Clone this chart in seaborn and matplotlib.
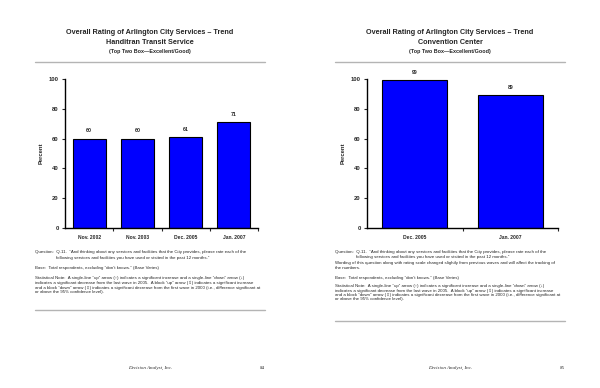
import matplotlib
matplotlib.use("Agg")
import matplotlib.pyplot as plt
import seaborn as sns
import pandas as pd
from matplotlib.lines import Line2D

# Chart data
transit_periods = ["Nov. 2002", "Nov. 2003", "Dec. 2005", "Jan. 2007"]
transit_values = [60, 60, 61, 71]

convention_periods = ["Dec. 2005", "Jan. 2007"]
convention_values = [99, 89]

yticks = [0, 20, 40, 60, 80, 100]

title_main = "Overall Rating of Arlington City Services \u2013 Trend"
sub_left = "Handitran Transit Service"
sub_right = "Convention Center"
sub_note = "(Top Two Box\u2014Excellent/Good)"

question_1 = "Question:  Q.11.  \u201cAnd thinking about any services and facilities that the City provides, please rate each of the"
question_2 = "following services and facilities you have used or visited in the past 12 months.\u201d"
wording_1 = "Wording of this question along with rating scale changed slightly from previous waves and will affect the tracking of"
wording_2 = "the numbers."
base_txt = "Base:  Total respondents, excluding \u201cdon\u2019t knows.\u201d (Base Varies)"
stat_lines = [
    "Statistical Note:  A single-line \u201cup\u201d arrow (\u2191) indicates a significant increase and a single-line \u201cdown\u201d arrow (\u2193)",
    "indicates a significant decrease from the last wave in 2005.  A block \u201cup\u201d arrow (\u21e7) indicates a significant increase",
    "and a block \u201cdown\u201d arrow (\u21e9) indicates a significant decrease from the first wave in 2000 (i.e., difference significant at",
    "or above the 95% confidence level).",
]

sns.set_style("white")
plt.rcParams["font.family"] = ["Liberation Sans", "DejaVu Sans"]

W, H = 600, 388
fig = plt.figure(figsize=(6, 3.88), dpi=100)


def fx(px):
    return px / W


def fy(py):
    return 1 - py / H


def draw_chart(rect, periods, values):
    ax = fig.add_axes(rect)
    df = pd.DataFrame({"period": periods, "value": values})
    sns.barplot(data=df, x="period", y="value", color="#0000ff", saturation=1,
                edgecolor="black", linewidth=0.8, width=0.68, ax=ax)
    ax.set_xlim(-0.5, len(periods) - 0.5)
    ax.set_ylim(0, 100)
    ax.set_yticks(yticks)
    ax.set_xlabel("")
    ax.set_ylabel("Percent", fontsize=4.2, fontweight="bold", labelpad=4)
    for s in ["top", "right"]:
        ax.spines[s].set_visible(False)
    for s in ["left", "bottom"]:
        ax.spines[s].set_color("black")
        ax.spines[s].set_linewidth(1.0)
    ax.tick_params(axis="y", length=2.5, width=0.8, direction="out", labelsize=4.2, pad=2, left=True)
    ax.tick_params(axis="x", which="major", length=0, labelsize=3.6, pad=5)
    ax.set_xticks([i + 0.5 for i in range(len(periods))], minor=True)
    ax.tick_params(axis="x", which="minor", length=2.5, width=0.8, direction="out", bottom=True)
    for lab in ax.get_xticklabels() + ax.get_yticklabels():
        lab.set_fontweight("bold")
    ax.bar_label(ax.containers[0], fmt="%d", padding=4, fontsize=3.8, fontweight="bold")
    return ax


draw_chart([fx(65), fy(228), fx(193), 149 / H], transit_periods, transit_values)
draw_chart([fx(367), fy(228), fx(191), 149 / H], convention_periods, convention_values)


def header(cx, sub):
    fig.text(fx(cx), fy(33), title_main, ha="center", va="center", fontsize=5.2, fontweight="bold")
    fig.text(fx(cx), fy(42), sub, ha="center", va="center", fontsize=5.2, fontweight="bold")
    fig.text(fx(cx), fy(52), sub_note, ha="center", va="center", fontsize=3.9, fontweight="bold")


def rule(x0, x1, py):
    fig.add_artist(Line2D([fx(x0), fx(x1)], [fy(py), fy(py)], color="#b4b4b4", linewidth=1.0))


header(150, sub_left)
header(450, sub_right)
rule(35, 265, 62)
rule(335, 565, 62)

fs = 3.2
# left notes
lx = 35
fig.text(fx(lx), fy(252), question_1, fontsize=fs, va="center")
fig.text(fx(lx + 21), fy(258), question_2, fontsize=fs, va="center")
fig.text(fx(lx), fy(268), base_txt, fontsize=fs, va="center")
for i, line in enumerate(stat_lines):
    fig.text(fx(lx), fy(278 + 4.8 * i), line, fontsize=fs, va="center",
             family=["Liberation Sans", "DejaVu Sans"])
rule(35, 265, 310)

# right notes
rx = 335
fig.text(fx(rx), fy(252), question_1, fontsize=fs, va="center")
fig.text(fx(rx + 21), fy(257), question_2, fontsize=fs, va="center")
fig.text(fx(rx), fy(263), wording_1, fontsize=fs, va="center")
fig.text(fx(rx), fy(268), wording_2, fontsize=fs, va="center")
fig.text(fx(rx), fy(278), base_txt, fontsize=fs, va="center")
for i, line in enumerate(stat_lines):
    fig.text(fx(rx), fy(286 + 4.4 * i), line, fontsize=fs, va="center",
             family=["Liberation Sans", "DejaVu Sans"])
rule(335, 565, 321)

# footers
for cx, page, px in [(150, "84", 262), (450, "85", 562)]:
    fig.text(fx(cx), fy(368), "Decision Analyst, Inc.", ha="center", va="center",
             fontsize=3.6, style="italic", family="Liberation Serif")
    fig.text(fx(px), fy(368), page, ha="center", va="center", fontsize=3.6, family="Liberation Serif")

fig.savefig("out.png", dpi=100, facecolor="white")
